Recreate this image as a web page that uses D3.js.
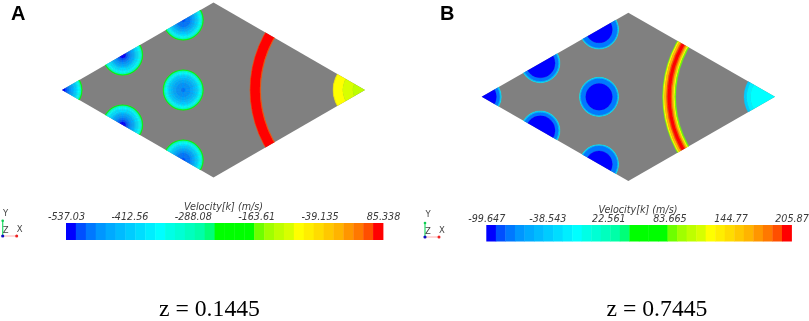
<!DOCTYPE html>
<meta charset="utf-8" />
<style>
	html, body { margin: 0; background: #fff; }
	svg { display: block; }
	.bar-text { font: italic 9.6px 'DejaVu Sans'; fill: #3a3a3a; }
	.triad-text { font: 8.5px 'DejaVu Sans'; fill: #444; }
</style>
<svg width="809" height="321"></svg>
<script src="https://cdn.jsdelivr.net/npm/d3@7"></script>
<script>
	// 32 band rainbow lookup table of the colour bar
	var bandColors = [
		'#0000ff', '#0050ff', '#0078ff', '#0096ff', '#00aaff', '#00bbff', '#00ccff', '#00ddff',
		'#00eeff', '#00ffff', '#00ffe6', '#00ffd4', '#00ffbe', '#00ffa8', '#00ff78', '#00ff00',
		'#00ff00', '#00ff00', '#00ff00', '#6eff00', '#a0ff00', '#beff00', '#d7ff00', '#ffff00',
		'#ffee00', '#ffdc00', '#ffc800', '#ffb400', '#ff9600', '#ff7800', '#ff5000', '#ff0000'
	];

	// rhombus outline and channel centres, model units
	var outlineX = [-30, 0, 30, 0];
	var outlineY = [0, 17.32, 0, -17.32];
	var channelX = [-30, -18, -18, -6, -6, -6];
	var channelY = [0, 6.93, -6.93, 0, 13.86, -13.86];

	// panel A, z = 0.1445
	var ticksA = [-537.03, -412.56, -288.08, -163.61, -39.135, 85.338];
	var tickLabelsA = ['-537.03', '-412.56', '-288.08', '-163.61', '-39.135', '85.338'];
	var radiiA = [4, 3.92, 3.8, 3.6, 3.4, 3.2, 3, 2.8, 2.6, 2.4, 2.2, 2, 1.8, 1.6, 1.4, 1.2, 1, 0.8, 0.6, 0.4, 0.2];
	var cornerA = [-170, -230, -300, -340, -358, -372, -388, -402, -415, -430, -445, -455, -465, -475, -485, -495, -505, -515, -525, -530, -535];
	var deepA = [-170, -230, -300, -340, -358, -370, -385, -398, -410, -425, -440, -455, -465, -475, -485, -495, -505, -515, -525, -530, -535];
	var middleA = [-170, -230, -300, -340, -360, -375, -390, -405, -415, -425, -433, -440, -448, -455, -462, -468, -472, -476, -478, -480, -480];
	var edgeA = [-170, -230, -300, -340, -360, -372, -388, -402, -412, -425, -440, -450, -460, -470, -480, -485, -490, -495, -498, -500, -500];
	var ringRadiiA = [22.8, 22.68, 20.78, 20.65];
	var ringValuesA = [60, 80, 60];
	var tipRadiiA = [6.35, 6.25, 4.4, 2.4];
	var tipValuesA = [-60, -85, -100, -120];

	// panel B, z = 0.7445
	var ticksB = [-99.647, -38.543, 22.561, 83.665, 144.77, 205.87];
	var tickLabelsB = ['-99.647', '-38.543', '22.561', '83.665', '144.77', '205.87'];
	var radiiB = [4, 3.9, 3.65, 3];
	var deepB = [-9, -45, -75, -95];
	var middleB = [-9, -45, -75, -95];
	var middleRadiiB = [4, 3.9, 3.7, 2.72];
	var ringRadiiB = [23, 22.85, 22.6, 22.2, 21.95, 21.3, 21.05, 20.75, 20.5, 20.3];
	var ringValuesB = [86, 124, 162, 191, 203, 191, 162, 124, 86];
	var tipRadiiB = [6.34, 5.8, 5];
	var tipValuesB = [-37, -18, -8];

	var panels = [
		{
			id: 'A', letterX: 11, letterY: 20, z: 'z = 0.1445', zX: 209.5,
			xRange: [62, 365], yRange: [177.5, 2.5],
			ticks: ticksA, labels: tickLabelsA,
			barX: [66, 383], barY: 223, barH: 17, titleY: 210, tickY: 220,
			triad: [2.7, 236, 16.7, 220.7],
			channels: [
				[radiiA, cornerA], [radiiA, deepA], [radiiA, deepA],
				[radiiA, middleA], [radiiA, edgeA], [radiiA, edgeA]
			],
			ring: [ringRadiiA, ringValuesA], tip: [tipRadiiA, tipValuesA]
		},
		{
			id: 'B', letterX: 440, letterY: 19.5, z: 'z = 0.7445', zX: 657,
			xRange: [481.7, 775], yRange: [181, 12.7],
			ticks: ticksB, labels: tickLabelsB,
			barX: [486.3, 791.5], barY: 225, barH: 16.5, titleY: 212.5, tickY: 222,
			triad: [425, 237, 439, 223],
			channels: [
				[radiiB, deepB], [radiiB, deepB], [radiiB, deepB],
				[middleRadiiB, middleB], [middleRadiiB, middleB], [middleRadiiB, middleB]
			],
			ring: [ringRadiiB, ringValuesB], tip: [tipRadiiB, tipValuesB]
		}
	];

	var svg = d3.select('svg');

	// the source is a soft raster screenshot
	svg.append('filter')
		.attr('id', 'soft')
		.append('feGaussianBlur')
		.attr('stdDeviation', 0.4);

	panels.forEach(drawPanel);

	function drawPanel(p) {
		var x = d3.scaleLinear().domain([-30, 30]).range(p.xRange);
		var y = d3.scaleLinear().domain([-17.32, 17.32]).range(p.yRange);
		var k = x(1) - x(0);
		var lo = p.ticks[0];
		var hi = p.ticks[p.ticks.length - 1];
		var color = d3.scaleQuantize().domain([lo, hi]).range(bandColors);
		var arc = d3.arc().startAngle(0).endAngle(2 * Math.PI);

		var g = svg.append('g').attr('filter', 'url(#soft)');

		var clipId = 'clip' + p.id;
		var corners = outlineX.map((d, i) => [x(d), y(outlineY[i])]);

		svg.append('clipPath')
			.attr('id', clipId)
			.append('polygon')
			.attr('points', corners.join(' '));

		g.append('polygon')
			.attr('points', corners.join(' '))
			.style('fill', '#808080');

		var field = g.append('g').attr('clip-path', 'url(#' + clipId + ')');

		// rings from outer edge to centre, one slice per profile value
		function drawRings(cx, cy, radii, values) {
			field.append('g')
				.attr('transform', 'translate(' + x(cx) + ',' + y(cy) + ')')
				.selectAll('path')
				.data(values)
				.join('path')
				.attr('d', (d, i) => arc({
					outerRadius: radii[i] * k,
					innerRadius: radii[i + 1] ? radii[i + 1] * k : 0
				}))
				.style('fill', d => color(d))
				.style('stroke', d => color(d))
				.style('stroke-width', 0.3);
		}

		channelX.forEach((cx, i) => {
			drawRings(cx, channelY[i], p.channels[i][0], p.channels[i][1]);
		});
		drawRings(30, 0, p.ring[0], p.ring[1]);
		drawRings(30, 0, p.tip[0], p.tip[1]);

		// colour bar
		var barScale = d3.scaleLinear().domain([lo, hi]).range(p.barX);
		var step = (hi - lo) / bandColors.length;

		g.append('g')
			.selectAll('rect')
			.data(bandColors)
			.join('rect')
			.attr('x', (d, i) => barScale(lo + i * step))
			.attr('y', p.barY)
			.attr('width', (p.barX[1] - p.barX[0]) / bandColors.length + 0.4)
			.attr('height', p.barH)
			.style('fill', d => d);

		var axis = g.append('g')
			.attr('class', 'bar-text')
			.attr('transform', 'translate(0,' + p.tickY + ')')
			.call(
				d3.axisTop(barScale)
					.tickValues(p.ticks)
					.tickSize(0)
					.tickPadding(0)
					.tickFormat((d, i) => p.labels[i])
			);

		axis.select('.domain').remove();
		axis.selectAll('text')
			.attr('class', 'bar-text')
			.attr('dy', 0)
			.attr('y', 0);

		g.append('text')
			.attr('class', 'bar-text')
			.attr('x', (p.barX[0] + p.barX[1]) / 2 - 1)
			.attr('y', p.titleY)
			.attr('text-anchor', 'middle')
			.text('Velocity[k] (m/s)');

		// axes triad
		var t = p.triad;

		g.append('line')
			.attr('x1', t[0]).attr('y1', t[1]).attr('x2', t[0]).attr('y2', t[3])
			.style('stroke', '#22dd66').style('stroke-width', 1.2);
		g.append('line')
			.attr('x1', t[0]).attr('y1', t[1]).attr('x2', t[2]).attr('y2', t[1])
			.style('stroke', '#ffb0b0').style('stroke-width', 1);
		g.append('circle')
			.attr('cx', t[0]).attr('cy', t[1]).attr('r', 1.6)
			.style('fill', '#1010c0');
		g.append('circle')
			.attr('cx', t[2]).attr('cy', t[1]).attr('r', 1.5)
			.style('fill', '#ee2020');
		g.append('circle')
			.attr('cx', t[0]).attr('cy', t[3]).attr('r', 1.3)
			.style('fill', '#10cc50');

		[['Y', 3, -20], ['Z', 3, -3], ['X', 17, -4]].forEach(d => {
			g.append('text')
				.attr('class', 'triad-text')
				.attr('x', t[0] + d[1])
				.attr('y', t[1] + d[2])
				.attr('text-anchor', 'middle')
				.text(d[0]);
		});

		// panel letter and slice height
		svg.append('text')
			.attr('x', p.letterX)
			.attr('y', p.letterY)
			.style('font', 'bold 20px "Liberation Sans"')
			.style('fill', '#000')
			.text(p.id);

		svg.append('text')
			.attr('x', p.zX)
			.attr('y', 316)
			.attr('text-anchor', 'middle')
			.style('font', '23.7px "Liberation Serif"')
			.style('fill', '#000')
			.text(p.z);
	}
</script>
